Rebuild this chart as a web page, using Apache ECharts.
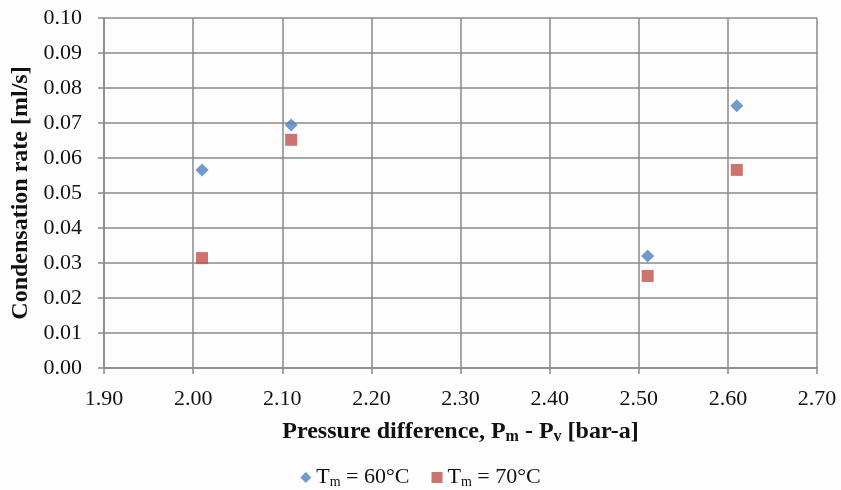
<!DOCTYPE html>
<html>
<head>
<meta charset="utf-8">
<script src="https://cdn.jsdelivr.net/npm/echarts@6/dist/echarts.min.js"></script>
<style>
    html, body { margin: 0; padding: 0; background: #fdfdfd; }
    #chart { width: 841px; height: 490px; }
</style>
</head>
<body>
<div id="chart"></div>
<script>
    // pressure difference [bar-a]
    var pressure = [2.01, 2.11, 2.51, 2.61];
    // condensation rate [ml/s]
    var rate60 = [0.0566, 0.0694, 0.032, 0.0749];
    var rate70 = [0.0314, 0.0652, 0.0263, 0.0566];
    var seriesNames = ['T60', 'T70'];

    function pairs(xs, ys) {
        return xs.map(function (x, i) { return [x, ys[i]]; });
    }

    var font = 'Liberation Serif';
    var gridColor = '#8a8a8a';

    var myChart = echarts.init(document.getElementById('chart'));
    var option = {
        backgroundColor: '#fdfdfd',
        animation: false,
        grid: {
            left: 104,
            right: 24,
            top: 18,
            bottom: 122
        },
        legend: {
            bottom: 1,
            left: 'center',
            padding: 0,
            itemWidth: 11,
            itemHeight: 11,
            itemGap: 22,
            data: [
                { name: seriesNames[0], icon: 'diamond' },
                { name: seriesNames[1], icon: 'rect' }
            ],
            formatter: function (name) {
                return name === 'T60' ? '{t|T}{s|m}{t| = 60°C}' : '{t|T}{s|m}{t| = 70°C}';
            },
            textStyle: {
                fontFamily: font,
                color: '#111',
                rich: {
                    t: { fontFamily: font, fontSize: 22, color: '#111' },
                    s: { fontFamily: font, fontSize: 14, color: '#111', verticalAlign: 'bottom', padding: [9, 0, 0, 0] }
                }
            }
        },
        xAxis: {
            type: 'value',
            min: 1.9,
            max: 2.7,
            interval: 0.1,
            name: '{b|Pressure difference, P}{s|m}{b| - P}{s|v}{b| [bar-a]}',
            nameLocation: 'middle',
            nameGap: 50,
            nameTextStyle: {
                rich: {
                    b: { fontFamily: font, fontSize: 24, fontWeight: 'bold', color: '#111' },
                    s: { fontFamily: font, fontSize: 16, fontWeight: 'bold', color: '#111', padding: [11, 0, 0, 0] }
                }
            },
            axisLine: { onZero: false, lineStyle: { color: gridColor, width: 1.5 } },
            axisTick: { show: true, length: 6, lineStyle: { color: gridColor, width: 1.5 } },
            splitLine: { show: true, lineStyle: { color: gridColor, width: 1.5 } },
            axisLabel: {
                margin: 20,
                fontFamily: font,
                fontSize: 22,
                color: '#111',
                formatter: function (v) { return v.toFixed(2); }
            }
        },
        yAxis: {
            type: 'value',
            min: 0,
            max: 0.1,
            interval: 0.01,
            name: 'Condensation rate [ml/s]',
            nameLocation: 'middle',
            nameGap: 69,
            nameTextStyle: {
                fontFamily: font,
                fontSize: 24,
                fontWeight: 'bold',
                color: '#111'
            },
            axisLine: { show: true, lineStyle: { color: gridColor, width: 1.5 } },
            axisTick: { show: true, length: 6, lineStyle: { color: gridColor, width: 1.5 } },
            splitLine: { show: true, lineStyle: { color: gridColor, width: 1.5 } },
            axisLabel: {
                margin: 22,
                fontFamily: font,
                fontSize: 22,
                color: '#111',
                formatter: function (v) { return v.toFixed(2); }
            }
        },
        series: [
            {
                name: seriesNames[0],
                type: 'scatter',
                symbol: 'diamond',
                symbolSize: 13,
                itemStyle: { color: '#4F81BD' },
                data: pairs(pressure, rate60)
            },
            {
                name: seriesNames[1],
                type: 'scatter',
                symbol: 'rect',
                symbolSize: 12,
                itemStyle: { color: '#C0504D' },
                data: pairs(pressure, rate70)
            }
        ]
    };
    myChart.setOption(option);
</script>
</body>
</html>
